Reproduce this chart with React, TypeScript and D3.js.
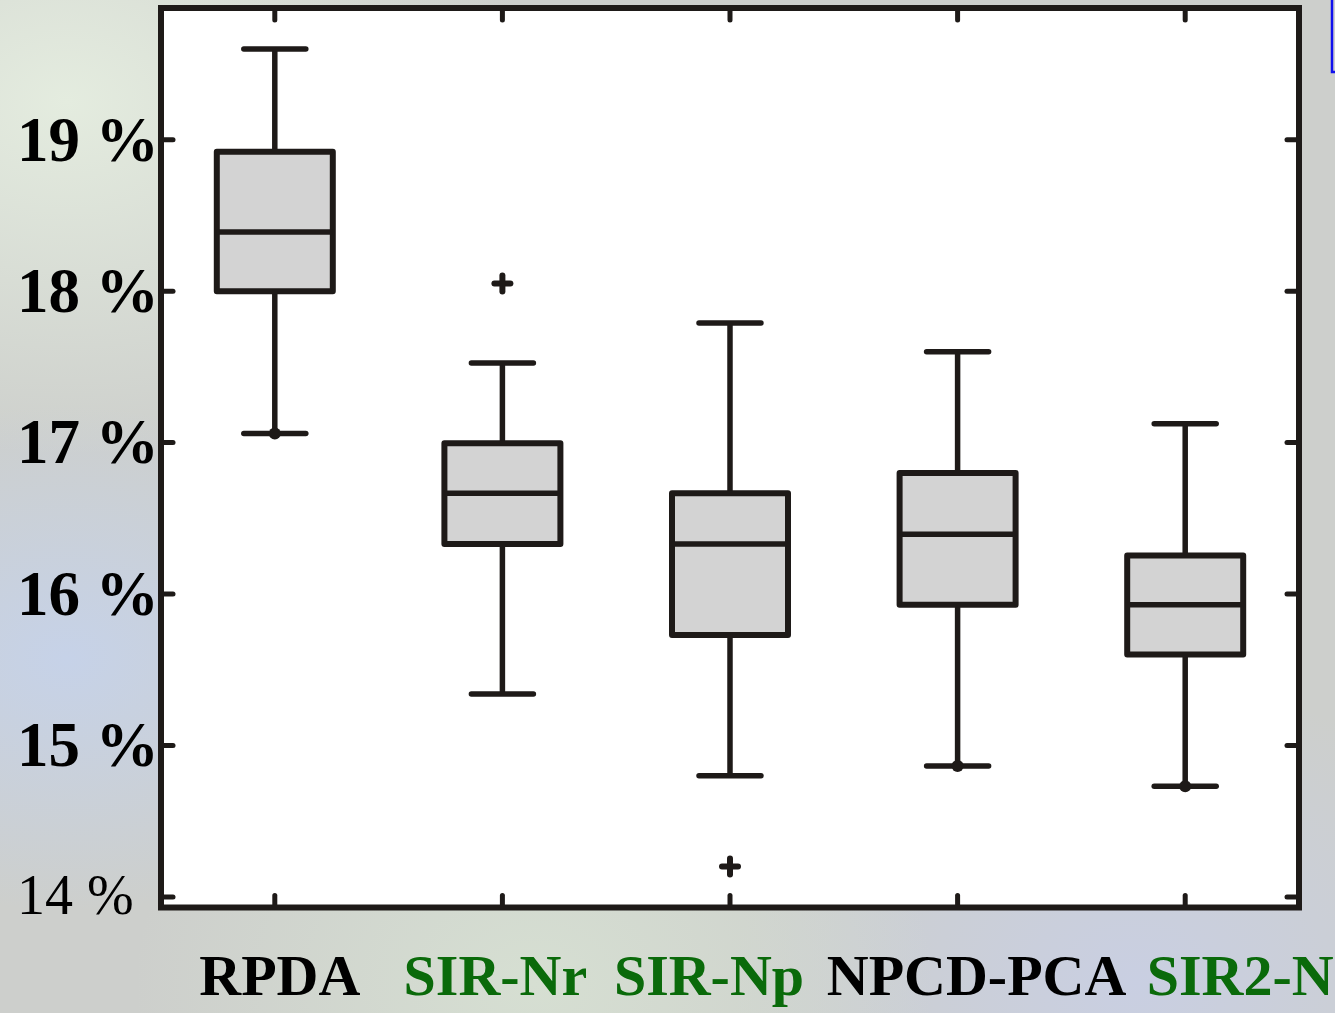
import React from 'react';
import * as d3 from 'd3';

// box plot values (percent)
const categories = ["RPDA", "SIR-Nr", "SIR-Np", "NPCD-PCA", "SIR2-N"];
const labelColors = ["#000000", "#0a6a0a", "#0a6a0a", "#000000", "#0a6a0a"];
const whiskerLow = [17.06, 15.34, 14.80, 14.865, 14.73];
const q1 = [18.00, 16.33, 15.73, 15.93, 15.60];
const median = [18.39, 16.665, 16.33, 16.395, 15.93];
const q3 = [18.92, 16.995, 16.665, 16.80, 16.255];
const whiskerHigh = [19.60, 17.525, 17.79, 17.60, 17.125];
const outliers = [[], [18.05], [14.20], [], []];
const endDots = [17.06, null, null, 14.865, 14.73];
const yTicks = [14, 15, 16, 17, 18, 19];

const W = 1335;
const H = 1013;
const INK = "#1e1a18";
const SERIF = "'Liberation Serif', 'Times New Roman', serif";

export default function App() {
  var x = d3.scaleLinear().domain([0.5, 5.5]).range([161, 1299]);
  var y = d3.scaleLinear().domain([13.93, 19.87]).range([907.5, 8]);
  var left = x(0.5), right = x(5.5), top = y(19.87), bottom = y(13.93);
  var boxHalf = 58, capHalf = 31, tickLen = 12;
  // hand-placed label nudges, like in the original slide
  var labelShift = [5, -7, -21, 19, 55];

  return (
    <svg width={W} height={H} style={{ position: 'absolute', left: 0, top: 0 }}>
      <defs>
        <radialGradient id="bgA" cx="0.05" cy="0.1" r="0.35">
          <stop offset="0" stopColor="#e4ecdf" />
          <stop offset="1" stopColor="#e4ecdf" stopOpacity="0" />
        </radialGradient>
        <radialGradient id="bgB" cx="0.05" cy="0.65" r="0.25">
          <stop offset="0" stopColor="#c6d2e8" />
          <stop offset="1" stopColor="#c6d2e8" stopOpacity="0" />
        </radialGradient>
        <radialGradient id="bgC" cx="0.85" cy="0.97" r="0.3">
          <stop offset="0" stopColor="#c9cfe2" />
          <stop offset="1" stopColor="#c9cfe2" stopOpacity="0" />
        </radialGradient>
        <radialGradient id="bgD" cx="0.4" cy="0.97" r="0.3">
          <stop offset="0" stopColor="#d6dfd2" />
          <stop offset="1" stopColor="#d6dfd2" stopOpacity="0" />
        </radialGradient>
      </defs>
      <rect width={W} height={H} fill="#cdcfcc" />
      <rect width={W} height={H} fill="url(#bgA)" />
      <rect width={W} height={H} fill="url(#bgB)" />
      <rect width={W} height={H} fill="url(#bgC)" />
      <rect width={W} height={H} fill="url(#bgD)" />

      {/* cut-off blue box at the top right */}
      <rect x={1332} y={-3} width={30} height={75} fill="#d0d0d0" stroke="#1010ee" strokeWidth={2.5} />

      {/* plot area */}
      <rect x={left} y={top} width={right - left} height={bottom - top} fill="#ffffff" />

      {/* inward ticks */}
      {yTicks.map(function (t) {
        return (
          <g key={"yt" + t} stroke={INK} strokeWidth={5} strokeLinecap="round">
            <line x1={left} x2={left + tickLen} y1={y(t)} y2={y(t)} />
            <line x1={right} x2={right - tickLen} y1={y(t)} y2={y(t)} />
          </g>
        );
      })}
      {categories.map(function (c, i) {
        return (
          <g key={"xt" + c} stroke={INK} strokeWidth={5} strokeLinecap="round">
            <line x1={x(i + 1)} x2={x(i + 1)} y1={top} y2={top + tickLen} />
            <line x1={x(i + 1)} x2={x(i + 1)} y1={bottom} y2={bottom - tickLen} />
          </g>
        );
      })}

      {/* boxes */}
      {categories.map(function (c, i) {
        var cx = x(i + 1);
        return (
          <g key={"box" + c} stroke={INK}>
            <line x1={cx} x2={cx} y1={y(whiskerHigh[i])} y2={y(q3[i])} strokeWidth={5.5} />
            <line x1={cx} x2={cx} y1={y(q1[i])} y2={y(whiskerLow[i])} strokeWidth={5.5} />
            <line x1={cx - capHalf} x2={cx + capHalf} y1={y(whiskerHigh[i])} y2={y(whiskerHigh[i])} strokeWidth={5.5} strokeLinecap="round" />
            <line x1={cx - capHalf} x2={cx + capHalf} y1={y(whiskerLow[i])} y2={y(whiskerLow[i])} strokeWidth={5.5} strokeLinecap="round" />
            <rect x={cx - boxHalf} y={y(q3[i])} width={boxHalf * 2} height={y(q1[i]) - y(q3[i])}
              fill="#d3d3d3" strokeWidth={6} strokeLinejoin="round" />
            <line x1={cx - boxHalf} x2={cx + boxHalf} y1={y(median[i])} y2={y(median[i])} strokeWidth={5.5} />
            {endDots[i] !== null && (
              <circle cx={cx} cy={y(endDots[i])} r={6} fill={INK} stroke="none" />
            )}
            {outliers[i].map(function (o, j) {
              return (
                <g key={"o" + j} strokeWidth={6} strokeLinecap="round">
                  <line x1={cx - 8} x2={cx + 8} y1={y(o)} y2={y(o)} />
                  <line x1={cx} x2={cx} y1={y(o) - 8} y2={y(o) + 8} />
                </g>
              );
            })}
          </g>
        );
      })}

      {/* frame */}
      <rect x={left} y={top} width={right - left} height={bottom - top} fill="none" stroke={INK} strokeWidth={6} />

      {/* y labels */}
      {yTicks.map(function (t) {
        var first = t === yTicks[0];
        return (
          <text key={"yl" + t} x={17} y={y(t)} dy={first ? "0.31em" : "0.33em"}
            fontFamily={SERIF} fontWeight={first ? "normal" : "bold"} fontSize={first ? 56 : 63} fill="#000">
            {t + " %"}
          </text>
        );
      })}

      {/* category labels */}
      {categories.map(function (c, i) {
        return (
          <text key={"xl" + c} x={x(i + 1) + labelShift[i]} y={995} textAnchor="middle"
            fontFamily={SERIF} fontWeight="bold" fontSize={58} fill={labelColors[i]}>
            {c}
          </text>
        );
      })}
    </svg>
  );
}
